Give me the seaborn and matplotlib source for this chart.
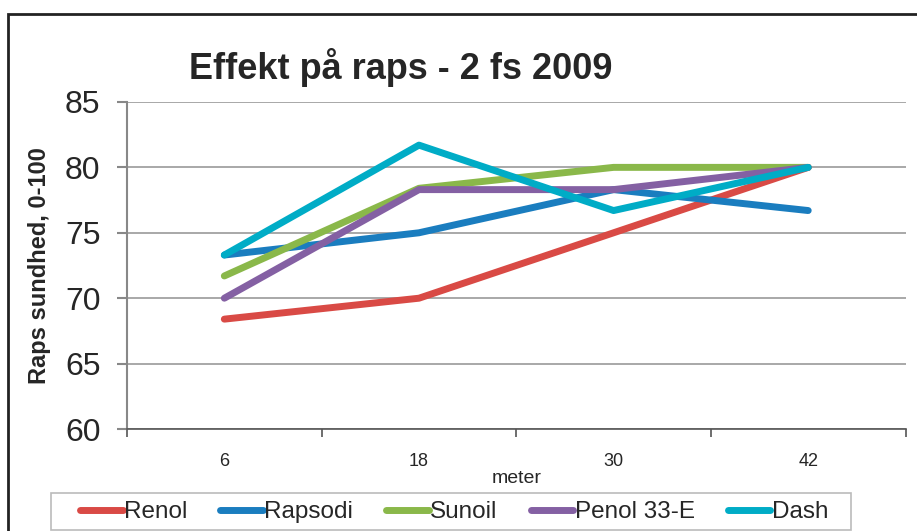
import pandas as pd
import seaborn as sns
import matplotlib.pyplot as plt
from matplotlib.patches import Rectangle

# Data
meter = ["6", "18", "30", "42"]
renol = [68.4, 70.0, 75.0, 80.0]
rapsodi = [73.3, 75.0, 78.3, 76.7]
sunoil = [71.7, 78.4, 80.0, 80.0]
penol = [70.0, 78.3, 78.3, 80.0]
dash = [73.3, 81.7, 76.7, 80.0]

series = ["Renol", "Rapsodi", "Sunoil", "Penol 33-E", "Dash"]
colors = ["#D94A45", "#1A7DBF", "#8AB84A", "#8460A3", "#00ACC6"]

df = pd.DataFrame({
    "meter": meter * 5,
    "value": renol + rapsodi + sunoil + penol + dash,
    "serie": sum([[s] * 4 for s in series], []),
})

sns.set_style("white")
plt.rcParams["font.family"] = ["Liberation Sans", "DejaVu Sans"]

fig = plt.figure(figsize=(9.17, 5.31), dpi=100)
ax = fig.add_axes([0.1385, 0.192, 0.849, 0.616])

sns.lineplot(data=df, x="meter", y="value", hue="serie", hue_order=series,
             palette=colors, linewidth=5, sort=False, ax=ax, legend=True,
             solid_capstyle="round")

ax.set_xlim(-0.5, 3.5)
ax.set_ylim(60, 85)
ax.set_yticks([60, 65, 70, 75, 80, 85])
ax.yaxis.grid(True, color="#999999", linewidth=1.2)
ax.set_axisbelow(True)

for s in ["top", "right"]:
    ax.spines[s].set_visible(False)
ax.spines["left"].set_color("#888888")
ax.spines["left"].set_linewidth(1.5)
ax.spines["bottom"].set_color("#555555")
ax.spines["bottom"].set_linewidth(1.2)

ax.set_xticks(range(4))
ax.set_xticks([-0.5, 0.5, 1.5, 2.5, 3.5], minor=True)
ax.tick_params(axis="x", which="major", length=0, labelsize=13, pad=17)
ax.tick_params(axis="x", which="minor", length=6, direction="out",
               color="#555555", width=1.2, bottom=True)
ax.tick_params(axis="y", length=7, direction="out", color="#888888",
               width=1.5, labelsize=23, pad=12, left=True)

ax.set_xlabel("meter", fontsize=14, labelpad=0)
ax.set_ylabel("Raps sundhed, 0-100", fontsize=17, fontweight="bold", labelpad=10)
fig.text(0.437, 0.872, "Effekt på raps - 2 fs 2009", ha="center", va="center",
         fontsize=26, fontweight="bold")

ax.get_legend().remove()
handles, labels = ax.get_legend_handles_labels()
leg = fig.legend(handles, labels, loc="center left",
                 bbox_to_anchor=(80 / 917, 1 - 512 / 531),
                 ncol=5, frameon=False, fontsize=17.5,
                 handlelength=1.75, handletextpad=0.05, columnspacing=1.37,
                 borderpad=0, borderaxespad=0)
for line in leg.get_lines():
    line.set_linewidth(5)

# legend box and outer chart border
fig.patches.append(Rectangle((51 / 917, 1 - 530 / 531), 800 / 917, 37 / 531,
                             transform=fig.transFigure, fill=False,
                             edgecolor="#BBBBBB", linewidth=1.2))
fig.patches.append(Rectangle((0.009, -0.1), 1.1, 0.1 + 0.974, transform=fig.transFigure,
                             fill=False, edgecolor="#222222", linewidth=2))

fig.savefig("out.png", dpi=100)
